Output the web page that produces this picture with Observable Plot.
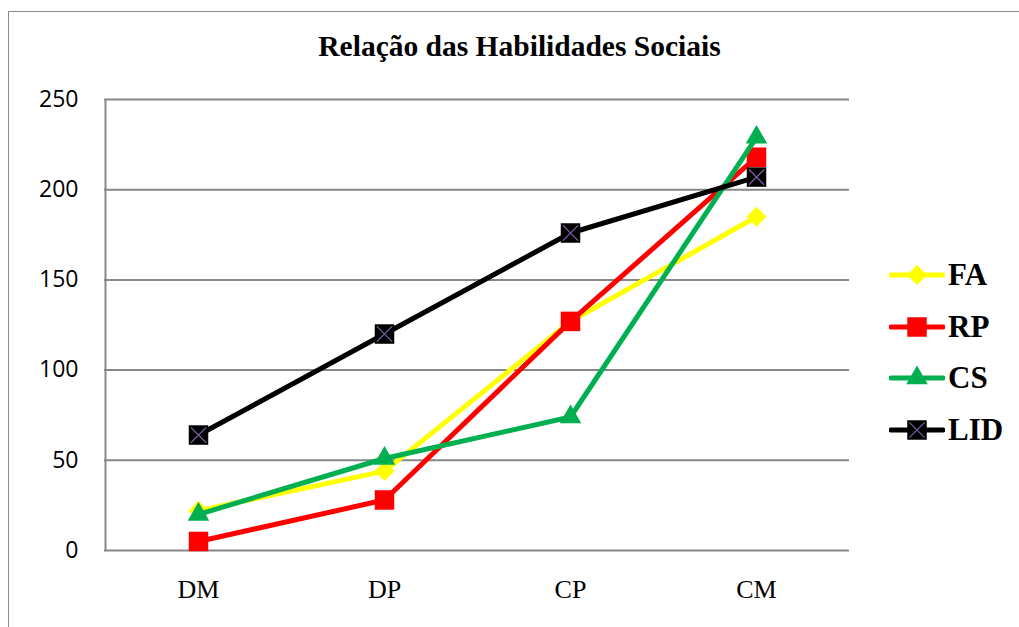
<!DOCTYPE html>
<html><head><meta charset="utf-8">
<script src="https://cdn.jsdelivr.net/npm/d3@7"></script>
<script src="https://cdn.jsdelivr.net/npm/@observablehq/plot@0.6"></script>
<style>
html,body{margin:0;padding:0;background:#fff;overflow:hidden}
body{width:1019px;height:627px;position:relative}
#frame{position:absolute;left:8px;top:11px;width:1100px;height:700px;border-left:1.5px solid #8c8c8c;border-top:1.5px solid #8c8c8c;box-sizing:border-box}
#chart{position:absolute;left:0;top:0}
#title{position:absolute;top:30px;left:0;width:1039px;text-align:center;font:bold 29.5px "Liberation Serif",serif;color:#000;white-space:nowrap}
#legend{position:absolute;left:889px;top:249px}
.item{display:flex;align-items:center;height:51.7px}
.item span{font:bold 31px "Liberation Serif",serif;color:#000;margin-left:3px}
</style></head>
<body>
<div id="frame"></div>
<div id="chart"></div>
<div id="title">Relação das Habilidades Sociais</div>
<div id="legend"></div>
<script>
const categories = ["DM", "DP", "CP", "CM"];
const seriesNames = ["FA", "RP", "CS", "LID"];
const FA = [22, 44, 127, 185];
const RP = [5, 28, 127, 218];
const CS = [20, 51, 74, 229];
const LID = [64, 120, 176, 207];
const yTicks = [0, 50, 100, 150, 200, 250];
const colors = ["#FFFF00", "#FF0000", "#00B050", "#000000"];
const symbols = ["diamond2", "square", "triangle", "square"];
const radii = [9, 11, 8, 11];

const values = [FA, RP, CS, LID];
const rows = seriesNames.flatMap((s, i) => categories.map((c, j) => ({series: s, cat: c, value: values[i][j]})));

const marks = [
  Plot.ruleY(yTicks, {stroke: "#878787", strokeWidth: 2}),
  Plot.ruleX([categories[0]], {stroke: "#878787", strokeWidth: 2, dx: -93, y1: 0, y2: 250}),
  Plot.axisY({ticks: yTicks, tickSize: 0, tickPadding: 26, fontSize: 23, fontFamily: "Open Sans", label: null}),
  Plot.axisX({tickSize: 0, tickPadding: 29, fontSize: 26, fontFamily: "Liberation Serif", label: null})
];
seriesNames.forEach((s, i) => {
  const d = rows.filter(r => r.series === s);
  marks.push(Plot.line(d, {x: "cat", y: "value", stroke: colors[i], strokeWidth: 5}));
  marks.push(Plot.dot(d, {x: "cat", y: "value", symbol: symbols[i], fill: colors[i], r: radii[i], stroke: "none"}));
  if (s === "LID") marks.push(Plot.dot(d, {x: "cat", y: "value", symbol: "times", stroke: "#7a5fa0", strokeWidth: 1.3, r: 7}));
});

const chart = Plot.plot({
  width: 1019, height: 627,
  marginLeft: 104, marginRight: 170, marginTop: 99, marginBottom: 77,
  x: {type: "point", domain: categories, padding: 0.5},
  y: {domain: [0, 250]},
  style: {background: "transparent", color: "#000"},
  marks
});
document.getElementById("chart").appendChild(chart);

// legend
const leg = d3.select("#legend");
seriesNames.forEach((s, i) => {
  const item = leg.append("div").attr("class", "item");
  const svg = item.append("svg").attr("width", 56).attr("height", 30);
  svg.append("line").attr("x1", 2).attr("x2", 54).attr("y1", 15).attr("y2", 15)
    .attr("stroke", colors[i]).attr("stroke-width", 5).attr("stroke-linecap", "round");
  const sym = {diamond2: d3.symbolDiamond2, square: d3.symbolSquare, triangle: d3.symbolTriangle}[symbols[i]];
  svg.append("path").attr("transform", "translate(28,15)")
    .attr("d", d3.symbol(sym, radii[i] * radii[i] * Math.PI)()).attr("fill", colors[i]);
  if (s === "LID") svg.append("path").attr("transform", "translate(28,15)")
    .attr("d", d3.symbol(d3.symbolTimes, 49 * Math.PI)()).attr("fill", "none").attr("stroke", "#7a5fa0").attr("stroke-width", 1.3);
  item.append("span").text(s);
});
</script>
</body></html>
